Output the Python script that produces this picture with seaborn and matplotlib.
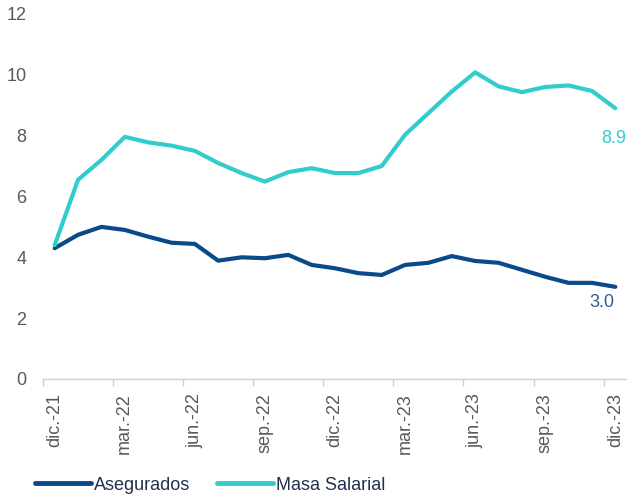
import pandas as pd
import matplotlib.pyplot as plt
import seaborn as sns
import numpy as np

sns.set_theme(style="white")
plt.rcParams["font.family"] = ["Liberation Sans", "DejaVu Sans"]

# Monthly data, dic-21 .. dic-23
months = [
    "dic.-21", "ene.-22", "feb.-22", "mar.-22", "abr.-22", "may.-22", "jun.-22",
    "jul.-22", "ago.-22", "sep.-22", "oct.-22", "nov.-22", "dic.-22",
    "ene.-23", "feb.-23", "mar.-23", "abr.-23", "may.-23", "jun.-23",
    "jul.-23", "ago.-23", "sep.-23", "oct.-23", "nov.-23", "dic.-23",
]
asegurados = [4.3, 4.74, 5.0, 4.9, 4.68, 4.48, 4.44, 3.89, 4.0, 3.97, 4.08, 3.75,
              3.64, 3.48, 3.42, 3.75, 3.82, 4.04, 3.88, 3.82, 3.59, 3.36, 3.16,
              3.16, 3.03]
masa_salarial = [4.4, 6.55, 7.2, 7.96, 7.78, 7.67, 7.5, 7.1, 6.77, 6.49, 6.8, 6.93,
                 6.77, 6.77, 7.0, 8.03, 8.74, 9.45, 10.08, 9.62, 9.43, 9.6, 9.65,
                 9.47, 8.9]

colors = {"Asegurados": "#0A4A88", "Masa Salarial": "#33CCCC"}

df = pd.DataFrame({"mes": months, "Asegurados": asegurados,
                   "Masa Salarial": masa_salarial})
df["pos"] = np.arange(len(df))
long = df.melt(id_vars=["mes", "pos"], var_name="serie", value_name="valor")

fig = plt.figure(figsize=(6.27, 4.99), dpi=100)
ax = fig.add_axes([0.0686, 0.2405, 0.9314, 0.7315])

sns.lineplot(data=long, x="pos", y="valor", hue="serie", palette=colors,
             linewidth=3, ax=ax, legend=False)
for line in ax.lines:
    line.set_solid_capstyle("round")
    line.set_solid_joinstyle("round")

ax.set_xlim(-0.5, len(months) - 0.5)
ax.set_ylim(0, 12)
ax.set_yticks(range(0, 13, 2))
ax.set_xlabel("")
ax.set_ylabel("")

# category labels every 3 months, tick marks between categories
label_pos = df["pos"][::3]
ax.set_xticks(label_pos)
ax.set_xticklabels(df["mes"][::3], rotation=90)
ax.set_xticks(np.arange(-0.5, len(months) - 1, 3), minor=True)
ax.tick_params(axis="x", which="major", length=0, pad=10, labelsize=13,
               labelcolor="#595959")
ax.tick_params(axis="x", which="minor", length=5, width=1, color="#D0D0D0",
               direction="out", bottom=True)
ax.tick_params(axis="y", length=0, pad=12, labelsize=13, labelcolor="#595959")

for side in ["top", "right", "left"]:
    ax.spines[side].set_visible(False)
ax.spines["bottom"].set_color("#D0D0D0")
ax.spines["bottom"].set_linewidth(1)

# end labels
last = df["pos"].iloc[-1]
ax.annotate(f"{masa_salarial[-1]:.1f}", (last, masa_salarial[-1]),
            xytext=(-1, -22), textcoords="offset points", ha="center",
            va="center", fontsize=13, color="#33CCCC")
ax.annotate(f"{asegurados[-1]:.1f}", (last, asegurados[-1]),
            xytext=(-10, -11), textcoords="offset points", ha="center",
            va="center", fontsize=13, color="#2E5F96")

handles = [plt.Line2D([], [], color=colors[k], linewidth=3.5,
                      solid_capstyle="round") for k in colors]
fig.legend(handles, list(colors), loc="center left",
           bbox_to_anchor=(0.056, 0.028), ncol=2, frameon=False, fontsize=13,
           handlelength=3.1, handletextpad=0.15, columnspacing=1.5,
           labelcolor="#1F3050", borderaxespad=0, borderpad=0)

fig.savefig("out.png", dpi=100)
